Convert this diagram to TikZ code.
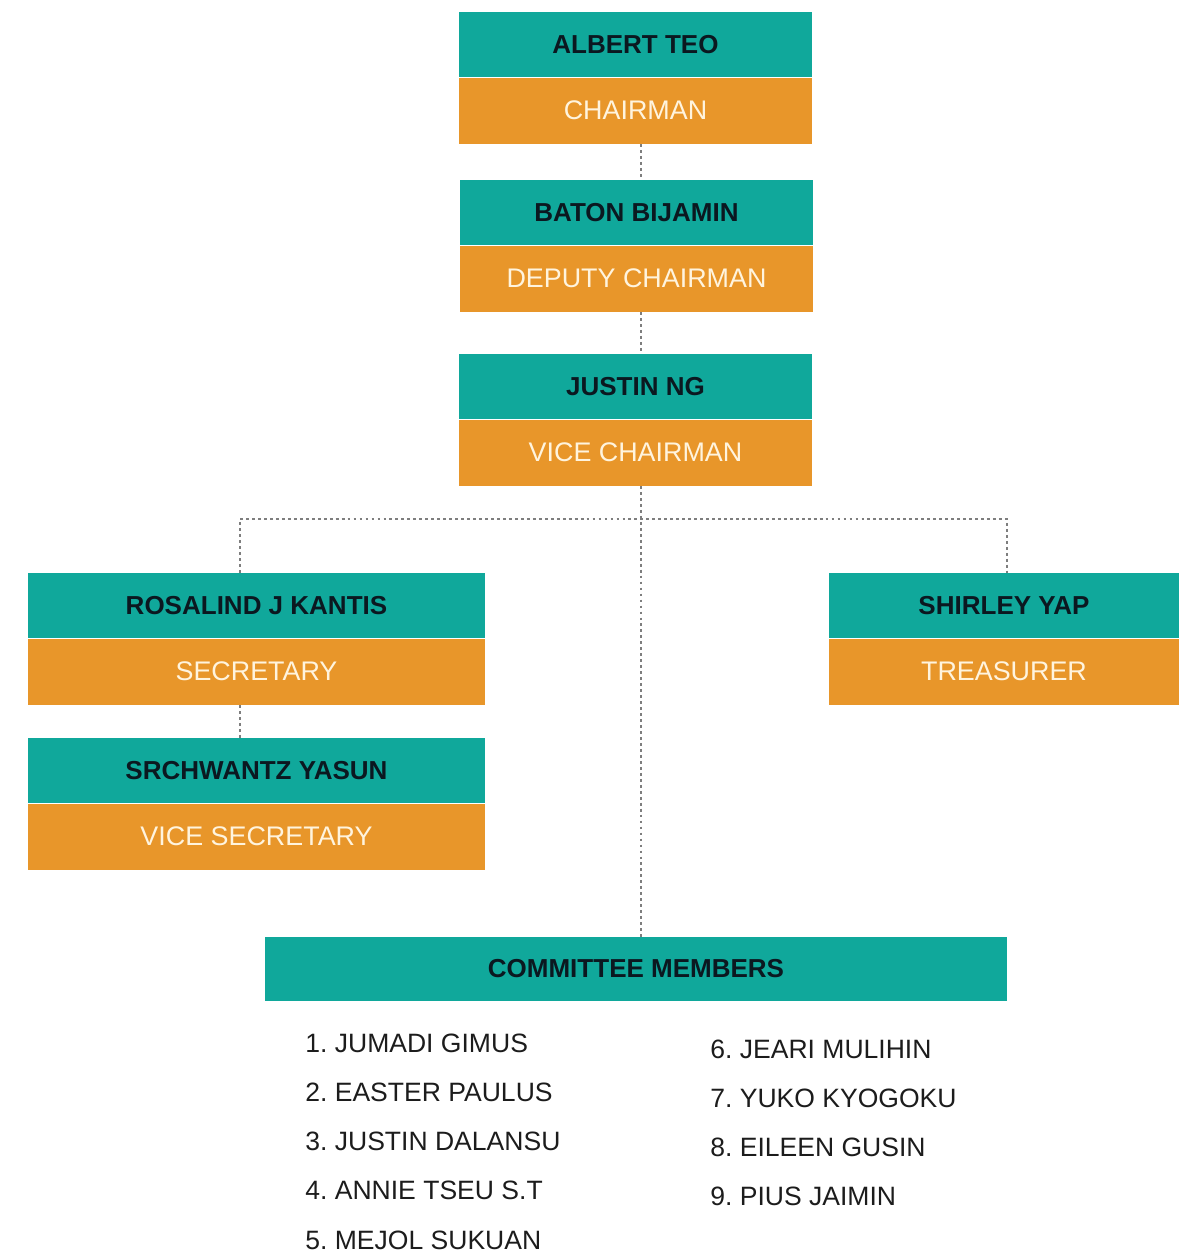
\documentclass[tikz,border=0pt]{standalone}
\usepackage{fontspec}
\setmainfont{Liberation Sans}
\usepackage{xcolor}
\definecolor{boardTeal}{HTML}{10A89B}
\definecolor{roleOrange}{HTML}{E8962A}
\definecolor{nameText}{HTML}{0B1820}
\definecolor{roleText}{HTML}{FFF4DE}
\definecolor{linkGray}{HTML}{7E7E7E}
\definecolor{listText}{HTML}{1C1C1C}
\usetikzlibrary{positioning}
\frenchspacing
\tikzset{
    % Teal name bar
    namebar/.style={
        rectangle,
        fill=boardTeal,
        text=nameText,
        font=\fontsize{14.8}{17}\selectfont\bfseries,
        minimum height=1.3cm,
        inner sep=0pt,
    },
    % Orange role bar under a name
    rolebar/.style={
        rectangle,
        fill=roleOrange,
        text=roleText,
        font=\fontsize{15.3}{17}\selectfont,
        minimum height=1.32cm,
        inner sep=0pt,
    },
    % Dotted connector
    link/.style={
        draw=linkGray,
        line width=1.6pt,
        dash pattern=on 1.6pt off 1.8pt,
    },
    % Committee list entries
    member/.style={
        anchor=west,
        text=listText,
        font=\fontsize{15.1}{17}\selectfont,
        inner sep=0pt,
    },
}
\begin{document}
\begin{tikzpicture}
    \useasboundingbox (0,0) rectangle (23.58,-25.08);

    % Top chain
    \node (chairName) [namebar, minimum width=7.06cm] at (12.71,-0.89) {ALBERT TEO};
    \node (chairRole) [rolebar, minimum width=7.06cm, below=0pt of chairName] {CHAIRMAN};
    \node (deputyName) [namebar, minimum width=7.06cm] at (12.73,-4.25) {BATON BIJAMIN};
    \node (deputyRole) [rolebar, minimum width=7.06cm, below=0pt of deputyName] {DEPUTY CHAIRMAN};
    \node (viceName) [namebar, minimum width=7.06cm] at (12.71,-7.73) {JUSTIN NG};
    \node (viceRole) [rolebar, minimum width=7.06cm, below=0pt of viceName] {VICE CHAIRMAN};

    % Side offices
    \node (secName) [namebar, minimum width=9.14cm] at (5.13,-12.11) {ROSALIND J KANTIS};
    \node (secRole) [rolebar, minimum width=9.14cm, below=0pt of secName] {SECRETARY};
    \node (vsecName) [namebar, minimum width=9.14cm] at (5.13,-15.41) {SRCHWANTZ YASUN};
    \node (vsecRole) [rolebar, minimum width=9.14cm, below=0pt of vsecName] {VICE SECRETARY};
    \node (treasName) [namebar, minimum width=7.0cm] at (20.08,-12.11) {SHIRLEY YAP};
    \node (treasRole) [rolebar, minimum width=7.0cm, below=0pt of treasName] {TREASURER};

    % Committee
    \node (committee) [namebar, minimum width=14.84cm, minimum height=1.28cm] at (12.72,-19.38) {COMMITTEE MEMBERS};

    % Tie points
    \coordinate (spine) at (12.82,0);
    \coordinate (branch) at (12.82,-10.38);
    \coordinate (secDrop) at (4.8,-10.38);
    \coordinate (treasDrop) at (20.14,-10.38);

    \draw [link] (chairRole.south -| spine) -- (deputyName.north -| spine);
    \draw [link] (deputyRole.south -| spine) -- (viceName.north -| spine);
    \draw [link] (viceRole.south -| spine) -- (committee.north -| spine);
    \draw [link] (secDrop |- secName.north) -- (secDrop) -- (treasDrop) -- (treasDrop |- treasName.north);
    \draw [link] (secRole.south -| secDrop) -- (vsecName.north -| secDrop);

    % Member list
    \node (m1) [member] at (6.1,-20.86) {1. JUMADI GIMUS};
    \node (m2) [member] at (6.1,-21.84) {2. EASTER PAULUS};
    \node (m3) [member] at (6.1,-22.82) {3. JUSTIN DALANSU};
    \node (m4) [member] at (6.1,-23.80) {4. ANNIE TSEU S.T};
    \node (m5) [member] at (6.1,-24.80) {5. MEJOL SUKUAN};
    \node (m6) [member] at (14.2,-20.98) {6. JEARI MULIHIN};
    \node (m7) [member] at (14.2,-21.96) {7. YUKO KYOGOKU};
    \node (m8) [member] at (14.2,-22.94) {8. EILEEN GUSIN};
    \node (m9) [member] at (14.2,-23.92) {9. PIUS JAIMIN};
\end{tikzpicture}
\end{document}
